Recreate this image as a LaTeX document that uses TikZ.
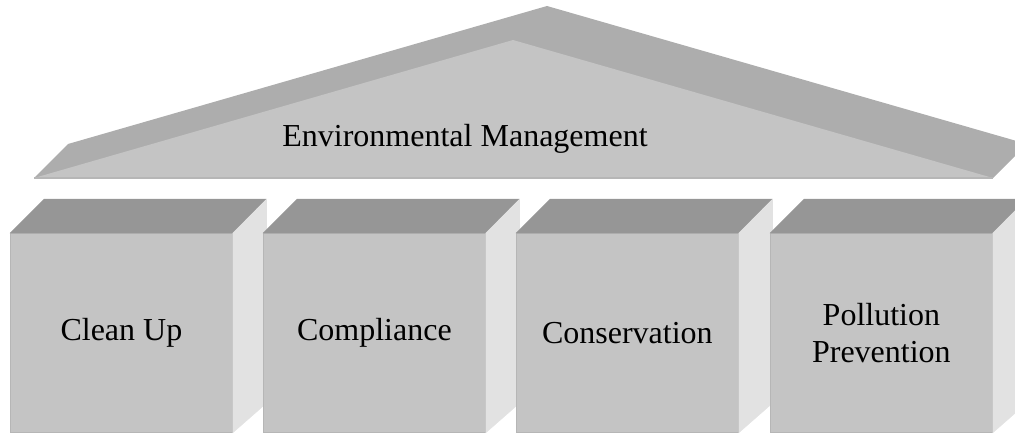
\documentclass[tikz,border=0pt]{standalone}
\usepackage{fontspec}
\setmainfont{Liberation Serif}
\usetikzlibrary{calc}
\definecolor{roofback}{HTML}{ADADAD}
\definecolor{frontgray}{HTML}{C4C4C4}
\definecolor{topgray}{HTML}{969696}
\definecolor{sidegray}{HTML}{E2E2E2}
\definecolor{edgegray}{HTML}{B6B6B6}
\begin{document}
\begin{tikzpicture}[x=1pt,y=-1pt,
  boxfront/.style={rectangle, fill=frontgray, draw=edgegray, line width=0.8pt,
    minimum width=222pt, minimum height=199pt, inner sep=0pt, align=center,
    font=\fontsize{32}{37}\selectfont},
  topface/.style={fill=topgray, draw=topgray, line width=0.3pt},
  sideface/.style={fill=sidegray, draw=sidegray, line width=0.3pt},
  rooftext/.style={font=\fontsize{32}{37}\selectfont, inner sep=0pt}]
\useasboundingbox (0,0) rectangle (1015,433);
\clip (0,0) rectangle (1015,433);
% roof
\coordinate (rl) at (34,178);
\coordinate (ra) at (513,40);
\coordinate (rr) at (993,178);
\fill[roofback] (rl) -- ++(34,-34) -- (547,6) -- ($(rr)+(34,-34)$) -- (rr) -- cycle;
\fill[frontgray] (rl) -- (ra) -- (rr) -- cycle;
\draw[edgegray, line width=1.5pt] (rl) -- (rr);
\node[rooftext] (roof) at (465,139) {Environmental Management};
% boxes
\foreach \x/\name/\txt in {10/b1/{Clean Up}, 263/b2/{Compliance}, 516/b3/{Conservation}, 770/b4/{Pollution\\Prevention}}{
  \node[boxfront, anchor=north west] (\name) at (\x,233) {\txt};
  \draw[topface] (\name.north west) -- ++(34,-34) -- ++(222,0) -- (\name.north east) -- cycle;
  \draw[sideface] (\name.north east) -- ++(34,-34) -- ++(0,204) -- (\name.south east) -- cycle;
}
\end{tikzpicture}
\end{document}
